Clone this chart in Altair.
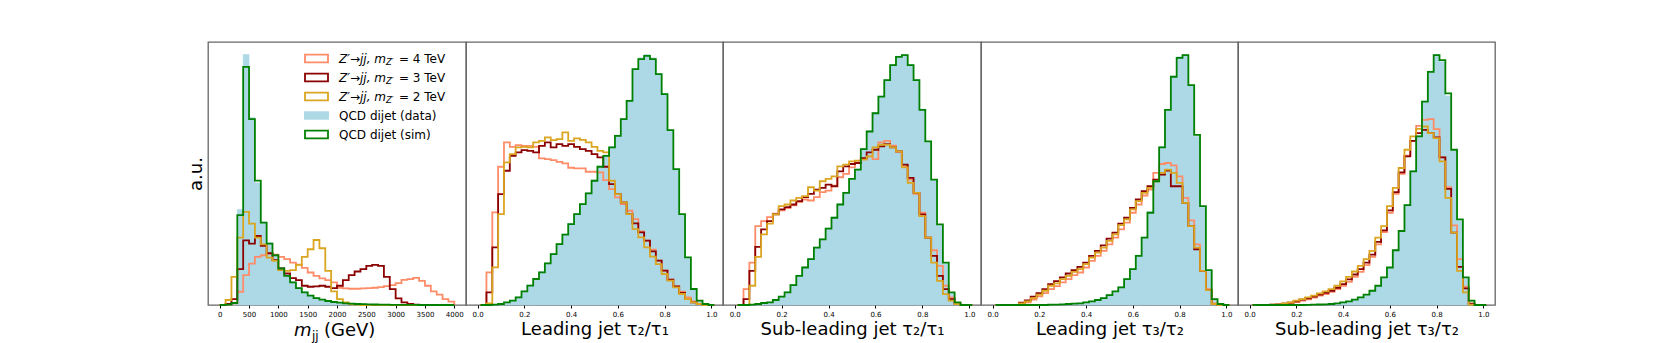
import altair as alt
import pandas as pd

# ---------------- data (bin heights, arbitrary units) ----------------
MJJ_START, MJJ_WIDTH = 0.0, 100.0
TAU_START, TAU_WIDTH = 0.0125, 0.025

mjj_sig4 = [0, 2, 5, 40, 90, 125, 145, 150, 155, 152, 145, 138, 128, 122, 112, 98, 88, 80, 75, 68,
            52, 50, 49, 49, 50, 51, 52, 54, 57, 60, 66, 76, 78, 82, 73, 58, 41, 31, 18, 10]
mjj_sig3 = [0, 3, 18, 108, 195, 185, 208, 178, 156, 135, 110, 95, 81, 75, 58, 55, 56, 58, 55, 51,
            58, 75, 90, 101, 108, 118, 121, 118, 85, 48, 20, 8, 3, 1, 0, 0, 0, 0, 0, 0]
mjj_sig2 = [0, 15, 85, 203, 281, 245, 203, 183, 143, 133, 105, 103, 105, 121, 145, 168, 196, 171, 103, 41,
            18, 8, 3, 1, 0, 0, 0, 0, 0, 0, 0, 0, 0, 0, 0, 0, 0, 0, 0, 0]
mjj_data = [0, 1, 8, 288, 755, 565, 368, 250, 188, 150, 112, 90, 70, 53, 40, 30, 22, 17, 13, 10,
            7, 5, 4, 3, 2.5, 2, 1.5, 1, 1, 0.5, 0.5, 0.3, 0.2, 0.1, 0, 0, 0, 0, 0, 0]
mjj_sim = [0, 1, 6, 271, 718, 560, 375, 248, 185, 150, 110, 88, 68, 51, 38, 28, 21, 16, 12, 9,
           7, 5, 4, 3, 2.5, 2, 1.5, 1, 1, 0.5, 0.5, 0.3, 0.2, 0.1, 0, 0, 0, 0, 0, 0]

t21l_sig4 = [0, 98, 278, 415, 488, 475, 480, 478, 478, 475, 440, 438, 435, 430, 425, 412, 410, 410, 400, 400,
             398, 375, 348, 323, 303, 283, 258, 221, 193, 166, 133, 103, 76, 56, 40, 23, 11, 3, 0, 0]
t21l_sig3 = [0, 38, 173, 333, 403, 448, 458, 465, 463, 458, 478, 488, 473, 483, 478, 483, 475, 468, 463, 453,
             443, 415, 363, 333, 308, 273, 245, 218, 193, 161, 133, 103, 76, 56, 36, 18, 8, 3, 0, 0]
t21l_sig2 = [0, 5, 113, 273, 428, 453, 473, 475, 473, 488, 493, 503, 495, 498, 518, 493, 500, 496, 488, 475,
             463, 458, 373, 333, 308, 273, 228, 203, 173, 145, 123, 93, 73, 53, 33, 18, 8, 3, 0, 0]
t21l_data = [0, 0, 1, 3, 8, 14, 24, 42, 60, 80, 100, 127, 155, 185, 213, 245, 275, 305, 337, 375,
             417, 450, 475, 510, 560, 615, 710, 742, 752, 742, 695, 635, 522, 405, 270, 140, 46, 12, 3, 0]
t21l_sim = [0, 0, 1, 3, 8, 13, 23, 41, 58, 78, 98, 125, 153, 183, 211, 243, 273, 303, 335, 373,
            415, 448, 473, 508, 558, 613, 708, 738, 748, 738, 693, 633, 525, 408, 273, 143, 48, 13, 3, 0]

t21s_sig4 = [0, 48, 128, 238, 253, 265, 275, 285, 292, 300, 310, 318, 315, 325, 340, 345, 360, 385, 395, 415,
             430, 440, 448, 440, 490, 495, 480, 462, 418, 378, 335, 278, 203, 165, 118, 58, 23, 5, 0, 0]
t21s_sig3 = [0, 18, 103, 175, 228, 253, 273, 288, 295, 303, 313, 325, 335, 348, 353, 363, 358, 403, 418, 425,
             428, 443, 460, 468, 478, 485, 475, 463, 423, 383, 338, 273, 203, 148, 88, 48, 18, 3, 0, 0]
t21s_sig2 = [0, 0, 58, 145, 213, 245, 273, 298, 303, 315, 323, 328, 355, 345, 373, 380, 388, 418, 423, 433,
             435, 438, 448, 475, 483, 483, 475, 463, 415, 368, 338, 268, 203, 128, 73, 33, 13, 3, 0, 0]
t21s_data = [0, 0, 1, 3, 6, 9, 16, 26, 40, 62, 90, 115, 140, 175, 200, 232, 265, 305, 340, 382,
             410, 472, 525, 580, 630, 680, 725, 750, 755, 725, 680, 590, 490, 375, 240, 125, 36, 7, 0, 0]
t21s_sim = [0, 0, 1, 3, 6, 8, 15, 25, 38, 60, 88, 113, 138, 173, 198, 230, 263, 303, 338, 380,
            408, 470, 523, 578, 628, 678, 723, 748, 753, 723, 678, 588, 493, 378, 243, 128, 38, 8, 0, 0]

t32l_sig4 = [0, 0, 0, 0, 3, 8, 16, 26, 36, 48, 57, 68, 78, 90, 98, 113, 133, 148, 163, 183,
             203, 228, 248, 278, 303, 330, 348, 398, 425, 428, 421, 388, 323, 255, 183, 103, 48, 5, 0, 0]
t32l_sig3 = [0, 0, 0, 0, 7, 14, 25, 36, 48, 63, 72, 83, 95, 105, 115, 128, 148, 163, 180, 200,
             218, 245, 263, 293, 318, 343, 358, 378, 393, 405, 358, 358, 308, 238, 168, 103, 45, 3, 0, 0]
t32l_sig2 = [0, 0, 0, 0, 5, 11, 21, 31, 43, 58, 65, 78, 88, 100, 108, 123, 143, 158, 173, 193,
             213, 241, 258, 288, 313, 338, 353, 373, 398, 408, 398, 368, 308, 238, 173, 103, 45, 3, 0, 0]
t32l_data = [0, 0, 0, 0, 0, 0, 0, 0, 0, 1, 1, 2, 3, 4, 6, 9, 12, 16, 22, 31,
             42, 55, 80, 110, 150, 205, 282, 378, 478, 590, 690, 748, 755, 660, 508, 295, 102, 16, 3, 0]
t32l_sim = [0, 0, 0, 0, 0, 0, 0, 0, 0, 1, 1, 2, 3, 4, 5, 8, 11, 15, 21, 30,
            41, 53, 78, 108, 148, 203, 278, 373, 475, 588, 688, 745, 753, 663, 513, 298, 105, 18, 3, 0]

t32s_sig4 = [0, 0, 0, 0, 1, 3, 6, 9, 13, 17, 22, 28, 33, 40, 48, 58, 70, 85, 100, 120,
             145, 183, 220, 278, 335, 395, 450, 495, 540, 558, 560, 530, 445, 355, 240, 138, 55, 5, 0, 0]
t32s_sig3 = [0, 0, 0, 1, 2, 4, 7, 11, 16, 20, 25, 31, 37, 43, 52, 63, 77, 92, 108, 128,
             152, 190, 225, 285, 340, 400, 448, 495, 518, 528, 518, 505, 445, 350, 218, 115, 50, 3, 0, 0]
t32s_sig2 = [0, 0, 0, 1, 2, 5, 8, 13, 18, 23, 28, 35, 41, 48, 58, 71, 85, 101, 118, 138,
             163, 203, 238, 298, 353, 413, 468, 508, 531, 538, 518, 503, 433, 323, 218, 103, 38, 1, 0, 0]
t32s_data = [0, 0, 0, 0, 0, 0, 0, 0, 0, 0.5, 1, 1.5, 2, 3, 5, 8, 11, 16, 23, 31,
             43, 58, 83, 113, 165, 225, 303, 405, 510, 615, 705, 755, 733, 630, 465, 255, 80, 12, 0, 0]
t32s_sim = [0, 0, 0, 0, 0, 0, 0, 0, 0, 0.5, 1, 1.5, 2, 3, 5, 8, 11, 16, 23, 31,
            43, 58, 83, 113, 165, 223, 301, 403, 508, 613, 703, 753, 738, 638, 468, 258, 83, 13, 0, 0]

mjj_ticks = [0, 500, 1000, 1500, 2000, 2500, 3000, 3500, 4000]
tau_ticks = [0.0, 0.2, 0.4, 0.6, 0.8, 1.0]

titles = ["", "Leading jet τ₂/τ₁", "Sub-leading jet τ₂/τ₁", "Leading jet τ₃/τ₂", "Sub-leading jet τ₃/τ₂"]

legend_labels = ["= 4 TeV", "= 3 TeV", "= 2 TeV", "QCD dijet (data)", "QCD dijet (sim)"]

C_SIG4, C_SIG3, C_SIG2 = "#FF8C69", "#8B0000", "#DAA520"
C_DATA, C_SIM = "#ADD8E6", "#008000"

panels = [
    dict(start=MJJ_START, width=MJJ_WIDTH, dom=[-200, 4200], ticks=mjj_ticks, fmt="d",
         s4=mjj_sig4, s3=mjj_sig3, s2=mjj_sig2, data=mjj_data, sim=mjj_sim, w=258),
    dict(start=TAU_START, width=TAU_WIDTH, dom=[-0.05, 1.05], ticks=tau_ticks, fmt=".1f",
         s4=t21l_sig4, s3=t21l_sig3, s2=t21l_sig2, data=t21l_data, sim=t21l_sim, w=257),
    dict(start=TAU_START, width=TAU_WIDTH, dom=[-0.05, 1.05], ticks=tau_ticks, fmt=".1f",
         s4=t21s_sig4, s3=t21s_sig3, s2=t21s_sig2, data=t21s_data, sim=t21s_sim, w=258),
    dict(start=TAU_START, width=TAU_WIDTH, dom=[-0.05, 1.05], ticks=tau_ticks, fmt=".1f",
         s4=t32l_sig4, s3=t32l_sig3, s2=t32l_sig2, data=t32l_data, sim=t32l_sim, w=257),
    dict(start=TAU_START, width=TAU_WIDTH, dom=[-0.05, 1.05], ticks=tau_ticks, fmt=".1f",
         s4=t32s_sig4, s3=t32s_sig3, s2=t32s_sig2, data=t32s_data, sim=t32s_sim, w=257),
]

H = 263


def step_frame(values, start, width):
    n = len(values)
    rows = [{"x": start, "y": 0.0, "o": 0}]
    for i, v in enumerate(values):
        rows.append({"x": start + i * width, "y": float(v), "o": i + 1})
    rows.append({"x": start + n * width, "y": float(values[-1]), "o": n + 1})
    rows.append({"x": start + n * width, "y": 0.0, "o": n + 2})
    return pd.DataFrame(rows)


def area_frame(values, start, width):
    n = len(values)
    xs = [start + i * width for i in range(n)] + [start + n * width]
    ys = [float(v) for v in values] + [float(values[-1])]
    return pd.DataFrame({"x": xs, "y": ys})


ONE = pd.DataFrame({"a": [0]})


def legend_layers():
    layers = []
    y0, dy = 16.5, 19.0
    colors = [C_SIG4, C_SIG3, C_SIG2, C_DATA, C_SIM]
    for i, lab in enumerate(legend_labels):
        yc = y0 + dy * i
        col = colors[i]
        if i == 3:
            patch = alt.Chart(ONE).mark_rect(color=col).encode(
                x=alt.value(96), x2=alt.value(121), y=alt.value(yc - 4.2), y2=alt.value(yc + 4.2))
        else:
            patch = alt.Chart(ONE).mark_rect(fillOpacity=0, stroke=col, strokeWidth=1.8).encode(
                x=alt.value(97), x2=alt.value(120), y=alt.value(yc - 3.8), y2=alt.value(yc + 3.8))
        layers.append(patch)
        if i < 3:
            layers.append(alt.Chart(ONE).mark_text(
                align="left", baseline="middle", fontSize=12, fontStyle="italic", color="black",
                font="DejaVu Sans").encode(x=alt.value(131), y=alt.value(yc), text=alt.value("Z′→jj, m")))
            layers.append(alt.Chart(ONE).mark_text(
                align="left", baseline="middle", fontSize=8.5, fontStyle="italic", color="black",
                font="DejaVu Sans").encode(x=alt.value(178), y=alt.value(yc + 3.5), text=alt.value("Z′")))
            layers.append(alt.Chart(ONE).mark_text(
                align="left", baseline="middle", fontSize=12, color="black",
                font="DejaVu Sans").encode(x=alt.value(191), y=alt.value(yc), text=alt.value(lab)))
        else:
            layers.append(alt.Chart(ONE).mark_text(
                align="left", baseline="middle", fontSize=12, color="black",
                font="DejaVu Sans").encode(x=alt.value(131), y=alt.value(yc), text=alt.value(lab)))
    return layers


def mjj_title_layers():
    base_y = H + 31
    return [
        alt.Chart(ONE).mark_text(align="left", baseline="alphabetic", fontSize=18, fontStyle="italic",
                                 color="black", font="DejaVu Sans").encode(
            x=alt.value(86), y=alt.value(base_y), text=alt.value("m")),
        alt.Chart(ONE).mark_text(align="left", baseline="alphabetic", fontSize=12,
                                 color="black", font="DejaVu Sans").encode(
            x=alt.value(104), y=alt.value(base_y + 3.5), text=alt.value("jj")),
        alt.Chart(ONE).mark_text(align="left", baseline="alphabetic", fontSize=18,
                                 color="black", font="DejaVu Sans").encode(
            x=alt.value(116), y=alt.value(base_y), text=alt.value("(GeV)")),
    ]


charts = []
for idx, p in enumerate(panels):
    ymax = 1.05 * max(max(p[k]) for k in ["s4", "s3", "s2", "data", "sim"])
    xs = alt.Scale(domain=p["dom"], nice=False, zero=False)
    ys = alt.Scale(domain=[0, ymax], nice=False, zero=False)
    if idx == 0:
        xaxis = alt.Axis(values=p["ticks"], format=p["fmt"], title=None)
        yaxis = alt.Axis(title="a.u.", labels=False, ticks=False, domain=False, grid=False,
                         titleFontSize=18, titleFontWeight="normal", titlePadding=3,
                         titleColor="black", titleFont="DejaVu Sans")
        Y = alt.Y("y:Q", scale=ys, axis=yaxis)
        YA = alt.Y("y:Q", scale=ys, axis=yaxis, stack=False)
    else:
        xaxis = alt.Axis(values=p["ticks"], format=p["fmt"], title=titles[idx])
        Y = alt.Y("y:Q", scale=ys, axis=None)
        YA = alt.Y("y:Q", scale=ys, axis=None, stack=False)

    X = alt.X("x:Q", scale=xs, axis=xaxis)

    layers = [
        alt.Chart(area_frame(p["data"], p["start"], p["width"])).mark_area(
            interpolate="step-after", color=C_DATA, opacity=1,
            stroke=C_DATA, strokeWidth=0.6).encode(x=X, y=YA)
    ]
    for key, col in [("s4", C_SIG4), ("s3", C_SIG3), ("s2", C_SIG2), ("sim", C_SIM)]:
        layers.append(
            alt.Chart(step_frame(p[key], p["start"], p["width"])).mark_line(
                interpolate="step-after", color=col, strokeWidth=1.8).encode(
                x=X, y=Y, order=alt.Order("o:Q"))
        )
    if idx == 0:
        layers += legend_layers()
        layers += mjj_title_layers()
    charts.append(alt.layer(*layers).properties(width=p["w"], height=H))

chart = alt.hconcat(*charts, spacing=0, bounds="flush").properties(
    padding={"left": 178, "top": 33, "right": 5, "bottom": 0},
    background="white",
).configure(font="DejaVu Sans").configure_view(
    stroke="#666666", strokeWidth=1.3
).configure_axis(
    labelFontSize=7, labelColor="black", labelFont="DejaVu Sans", labelPadding=2,
    tickSize=3, tickColor="black", tickWidth=1, domain=False, grid=False,
    titleFontSize=18, titleFontWeight="normal", titleColor="black", titleFont="DejaVu Sans",
    titlePadding=3,
)

chart.save("out.html", embed_options={"renderer": "svg", "actions": False})
